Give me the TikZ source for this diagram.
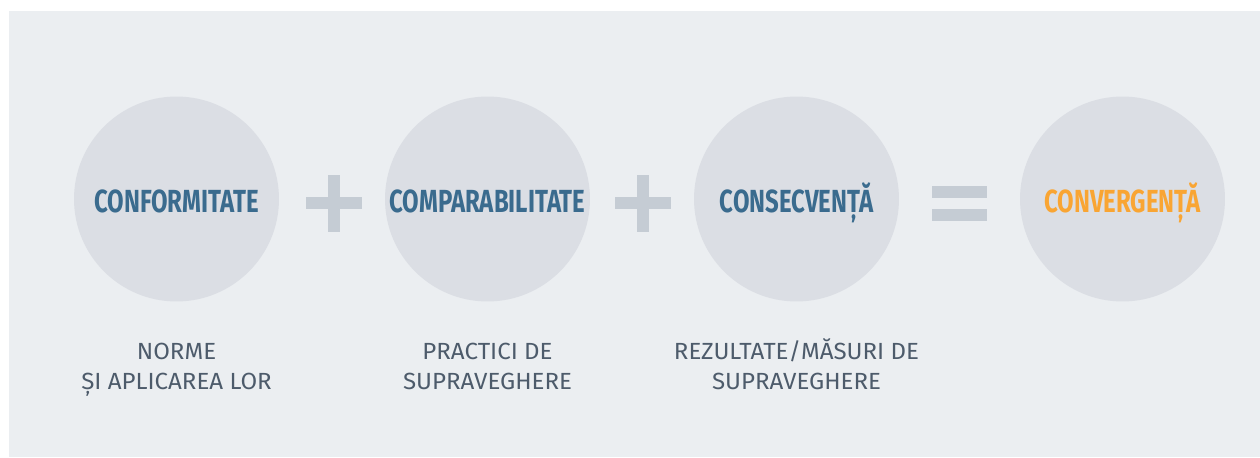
\documentclass[tikz,border=0pt]{standalone}
\usepackage{fontspec}
\usepackage{xcolor}
\usepackage{tikz}
\usetikzlibrary{positioning}

\setmainfont{Fira Sans}
\newfontfamily\titlefont[FakeStretch=0.75]{Fira Sans}
\newfontfamily\capfont[FakeStretch=1.03]{Fira Sans}

\definecolor{panelgray}{HTML}{EBEEF1}
\definecolor{discgray}{HTML}{DBDEE4}
\definecolor{signgray}{HTML}{C5CCD4}
\definecolor{titleblue}{HTML}{3A6B8E}
\definecolor{convorange}{HTML}{F9A533}
\definecolor{captiongray}{HTML}{4D5B6B}

\begin{document}
\begin{tikzpicture}[x=0.02cm,y=-0.02cm,
  disc/.style={circle,fill=discgray,minimum size=4.1cm,inner sep=0pt,
    text height=15.9pt,text depth=0pt,
    text=titleblue,font=\titlefont\bfseries\fontsize{18.2}{20}\selectfont},
  caption/.style={text=captiongray,align=center,inner sep=0pt,anchor=base,
    font=\capfont\fontsize{13.3}{17}\selectfont},
  sign/.style={fill=signgray}]
\useasboundingbox (0,0) rectangle (1260,457);
\fill[panelgray] (9,11) rectangle (1260,457);
% the four circles
\node[disc] (conf) at (176.5,199) {CONFORMITATE};
\node[disc] (comp) at (487.5,199) {COMPARABILITATE};
\node[disc] (cons) at (796.5,199) {CONSECVENȚĂ};
\node[disc,text=convorange] (conv) at (1122.5,199) {CONVERGENȚĂ};
% captions
\node[caption] (normcap) at (176.5,389) {NORME\\ȘI APLICAREA LOR};
\node[caption] (practcap) at (487.5,389) {PRACTICI DE\\SUPRAVEGHERE};
\node[caption] (rezcap) at (796.5,389) {REZULTATE/MĂSURI DE\\SUPRAVEGHERE};
% plus and equals signs
\foreach \x in {334,643} {
  \fill[sign] (\x-28,197) rectangle (\x+28,209);
  \fill[sign] (\x-6,175) rectangle (\x+6,232);
}
\fill[sign] (932,186) rectangle (987,198);
\fill[sign] (932,209) rectangle (987,221);
\end{tikzpicture}
\end{document}
